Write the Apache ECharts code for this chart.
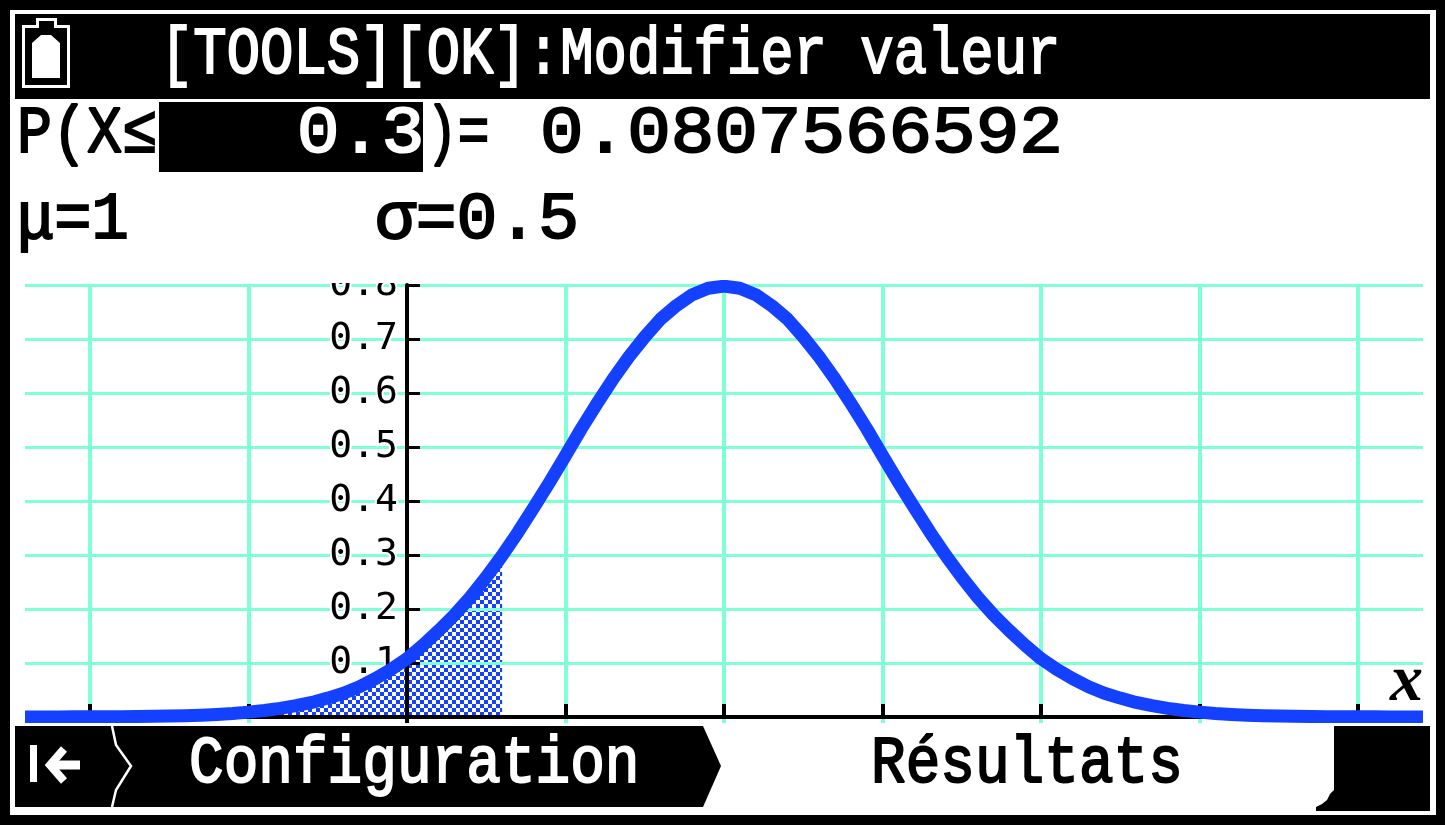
<!DOCTYPE html>
<html><head><meta charset="utf-8">
<style>html,body{margin:0;padding:0;background:#fff}#c{width:1445px;height:825px}</style>
<script src="https://cdn.jsdelivr.net/npm/echarts@6/dist/echarts.min.js"></script>
</head><body><div id="c"></div>
<script>
// values
const xValues = [-1.205,-1.15,-1.1,-1.05,-1,-0.95,-0.9,-0.85,-0.8,-0.75,-0.7,-0.65,-0.6,-0.55,-0.5,-0.45,-0.4,-0.35,-0.3,-0.25,-0.2,-0.15,-0.1,-0.05,0,0.05,0.1,0.15,0.2,0.25,0.3,0.35,0.4,0.45,0.5,0.55,0.6,0.65,0.7,0.75,0.8,0.85,0.9,0.95,1,1.05,1.1,1.15,1.2,1.25,1.3,1.35,1.4,1.45,1.5,1.55,1.6,1.65,1.7,1.75,1.8,1.85,1.9,1.95,2,2.05,2.1,2.15,2.2,2.25,2.3,2.35,2.4,2.45,2.5,2.55,2.6,2.65,2.7,2.75,2.8,2.85,2.9,2.95,3,3.05,3.1,3.15,3.205];
const densityValues = [0.0001,0.0002,0.0002,0.0003,0.0003,0.0004,0.0006,0.0008,0.0012,0.0018,0.0024,0.0034,0.0047,0.0065,0.009,0.012,0.016,0.021,0.027,0.035,0.044,0.056,0.071,0.088,0.108,0.133,0.16,0.189,0.222,0.259,0.299,0.342,0.388,0.435,0.484,0.534,0.581,0.626,0.667,0.704,0.737,0.762,0.782,0.794,0.798,0.794,0.782,0.762,0.737,0.704,0.667,0.626,0.581,0.534,0.484,0.435,0.388,0.342,0.299,0.259,0.222,0.189,0.16,0.133,0.108,0.088,0.071,0.056,0.044,0.035,0.027,0.021,0.016,0.012,0.009,0.0065,0.0047,0.0034,0.0024,0.0018,0.0012,0.0008,0.0006,0.0004,0.0003,0.0003,0.0002,0.0002,0.0001];
const shadeStart = -0.5;
const shadeEnd = 0.3;
const yTickLabels = ['0.1','0.2','0.3','0.4','0.5','0.6','0.7','0.8'];
const titleText = '[TOOLS][OK]:Modifier valeur';
const probPrefix = 'P(X≤';
const boundText = '0.3';
const probSuffix = ')=';
const probValue = '0.0807566592';
const muText = 'μ=1';
const sigmaText = 'σ=0.5';
const tabLeft = 'Configuration';
const tabRight = 'Résultats';
const axisName = 'x';

const BLUE = '#1440ff', AQUA = '#7fffd4';

const pat = document.createElement('canvas'); pat.width = 8; pat.height = 8;
const pc = pat.getContext('2d'); pc.fillStyle = '#fff'; pc.fillRect(0,0,8,8);
pc.fillStyle = BLUE; pc.fillRect(0,0,4,4); pc.fillRect(4,4,4,4);

const curve = xValues.map((x,i)=>[x,densityValues[i]]);
const shade = curve.filter(p=>p[0]>=shadeStart && p[0]<=shadeEnd);

const Z = 100;
const rect = (x,y,w,h,fill,z)=>({type:'rect',z:z||Z,shape:{x,y,width:w,height:h},style:{fill},silent:true});
const poly = (pts,fill,z)=>({type:'polygon',z:z||Z,shape:{points:pts},style:{fill},silent:true});
const pline = (pts,stroke,w,z)=>({type:'polyline',z:z||Z,shape:{points:pts},style:{stroke,lineWidth:w,fill:null},silent:true});
const txt = (text,x,cy,size,sx,fill,extra)=>({type:'text',z:Z+5,x,y:cy,scaleX:sx,silent:true,
  style:Object.assign({text,x:0,y:0,fill,fontFamily:'"Liberation Mono"',fontWeight:'normal',fontSize:size,align:'left',verticalAlign:'middle',stroke:fill,lineWidth:2},extra||{})});

const elements = [
  // masks limiting plot to its window (label tops and edges; z below the curve is not needed at the peak)
  rect(10,262,15,461,'#fff'), rect(1423,262,13,461,'#fff'),
  rect(10,262,1426,18,'#fff'), rect(330,280,70,3,'#fff'), rect(10,723,1426,92,'#fff'),
  // frame
  rect(0,0,1445,10,'#000',Z+1), rect(0,815,1445,10,'#000',Z+1),
  rect(0,0,10,825,'#000',Z+1), rect(1436,0,9,825,'#000',Z+1),
  // header
  rect(15,14,1415,85,'#000',Z+1),
  // battery
  poly([[22,88],[22,25],[36,25],[36,18],[57,18],[57,25],[70,25],[70,88]],'#fff',Z+2),
  poly([[25,85],[25,28],[39,28],[39,21],[54,21],[54,28],[67,28],[67,85]],'#000',Z+3),
  poly([[32,78],[32,43],[41,35],[51,35],[60,43],[60,78]],'#fff',Z+4),
  // selected box
  rect(159,102,264,70,'#000',Z+1),
  // tabs
  poly([[15,726],[703,726],[721,766],[703,807],[15,807]],'#000',Z+1),
  pline([[112,726],[116,745],[131,766],[116,790],[112,807]],'#fff',2.5,Z+2),
  rect(30,745,7,37,'#fff',Z+2),
  pline([[80,765],[50,765]],'#fff',9,Z+2),
  pline([[64,749],[50,765],[64,781]],'#fff',8,Z+2),
  poly([[1334,726],[1430,726],[1430,811],[1316,811],[1316,807],[1322,804],[1327,800],[1330,794],[1334,790]],'#000',Z+1),
  // text
  txt(titleText,160,56,66,0.842,'#fff'),
  txt(probPrefix,17,135,66,0.885,'#000'),
  txt(boundText,297,135,66,1.07,'#fff'),
  txt(probSuffix,426,135,66,0.8,'#000'),
  txt(probValue,540,135,66,1.1,'#000'),
  txt(muText,17,221,66,0.94,'#000'),
  txt(sigmaText,375,221,66,1.03,'#000'),
  txt(tabLeft,189,765,66,0.875,'#fff'),
  txt(tabRight,871,765,66,0.875,'#000'),
  {type:'text',z:Z+5,x:1390,y:683,silent:true,style:{text:axisName,x:0,y:0,fill:'#000',fontFamily:'"Liberation Serif"',fontStyle:'italic',fontWeight:'bold',fontSize:66,align:'left',verticalAlign:'middle'}}
];

const chart = echarts.init(document.getElementById('c'),null,{renderer:'canvas',width:1445,height:825});
chart.setOption({
  animation:false,
  backgroundColor:'#fff',
  grid:{left:407-1.5*317,width:5*317,top:285,height:486,containLabel:false,outerBoundsMode:'none'},
  xAxis:{type:'value',min:-1.5,max:3.5,interval:0.5,z:1,
    axisLine:{onZero:true,lineStyle:{color:'#000',width:4}},
    axisTick:{inside:true,length:13,lineStyle:{color:'#000',width:4}},
    axisLabel:{show:false},
    splitLine:{show:true,lineStyle:{color:AQUA,width:4}}},
  yAxis:{type:'value',min:-0.1,max:0.8,interval:0.1,z:1,position:'left',offset:-1.5*317,
    axisLine:{onZero:false,lineStyle:{color:'#000',width:4}},
    axisTick:{inside:true,length:13,lineStyle:{color:'#000',width:3}},
    axisLabel:{margin:9,color:'#000',fontFamily:'"DejaVu Sans Mono"',fontSize:38,
      textBorderColor:'#fff',textBorderWidth:4,
      showMinLabel:true,showMaxLabel:true,
      formatter:v=>{const i=Math.round(v*10)-1;return yTickLabels[i]||'';}},
    splitLine:{show:true,lineStyle:{color:AQUA,width:3}}},
  series:[
    {type:'line',z:0,data:shade,showSymbol:false,lineStyle:{width:0},
      areaStyle:{color:{image:pat,repeat:'repeat'},opacity:1}},
    {type:'line',z:5,data:curve,showSymbol:false,smooth:false,clip:false,
      lineStyle:{color:BLUE,width:13,cap:'butt',join:'round'}}
  ],
  graphic:{elements}
});
</script></body></html>
